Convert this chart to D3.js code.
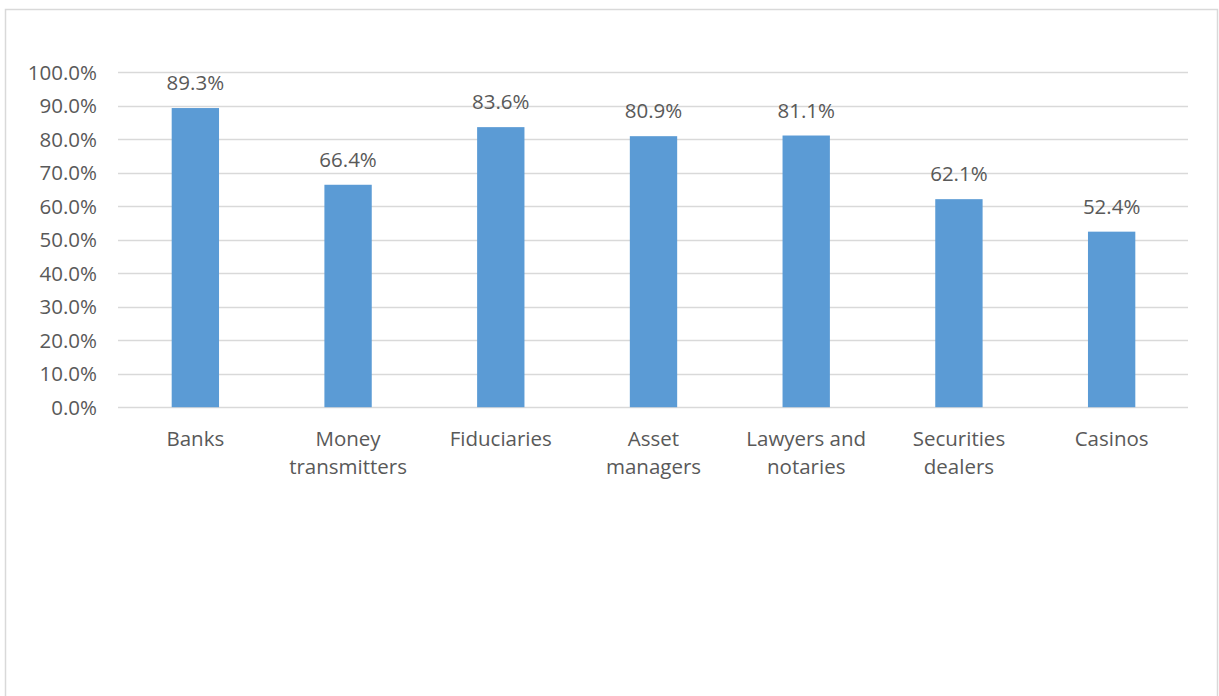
<!DOCTYPE html>
<html><head><meta charset="utf-8">
<script src="https://cdn.jsdelivr.net/npm/d3@7"></script>
<style>
html,body{margin:0;padding:0;background:#fff;}
svg{display:block;}
text{font-family:"Open Sans",sans-serif;fill:#595959;}
</style></head>
<body>
<script>
const categories = [["Banks"],["Money","transmitters"],["Fiduciaries"],["Asset","managers"],["Lawyers and","notaries"],["Securities","dealers"],["Casinos"]];
const values = [89.3, 66.4, 83.6, 80.9, 81.1, 62.1, 52.4];
const yTicks = [0,10,20,30,40,50,60,70,80,90,100];

const W = 1219, H = 696;
const svg = d3.select("body").append("svg").attr("width", W).attr("height", H);

svg.append("rect").attr("x",5.5).attr("y",9.5).attr("width",1212).attr("height",700)
  .attr("fill","#fff").attr("stroke","#d9d9d9").attr("stroke-width",1.5);

const x = d3.scaleBand().domain(d3.range(categories.length)).range([119,1188]).paddingInner(0.69).paddingOuter(0.345);
const y = d3.scaleLinear().domain([0,100]).range([407.2,72.2]);

// gridlines
svg.append("g").selectAll("line").data(yTicks).join("line")
  .attr("x1",118).attr("x2",1188)
  .attr("y1",d=>Math.round(y(d))+0.5).attr("y2",d=>Math.round(y(d))+0.5)
  .attr("stroke","#d9d9d9").attr("stroke-width",1.3);

// y tick labels
svg.append("g").selectAll("text").data(yTicks).join("text")
  .attr("x",97).attr("y",d=>y(d)+7.5).attr("text-anchor","end")
  .attr("font-size",20.5).text(d=>d.toFixed(1)+"%");

// bars
svg.append("g").selectAll("rect").data(values).join("rect")
  .attr("x",(d,i)=>x(i)).attr("width",x.bandwidth())
  .attr("y",d=>y(d)).attr("height",d=>y(0)-y(d))
  .attr("fill","#5b9bd5");

// value labels
svg.append("g").selectAll("text").data(values).join("text")
  .attr("x",(d,i)=>x(i)+x.bandwidth()/2).attr("y",d=>y(d)-17.8)
  .attr("text-anchor","middle").attr("font-size",20.5)
  .text(d=>d.toFixed(1)+"%");

// category labels
const cg = svg.append("g").selectAll("text").data(categories).join("text")
  .attr("text-anchor","middle").attr("font-size",20.5);
cg.each(function(lines,i){
  const t = d3.select(this);
  lines.forEach((ln,j)=>{
    t.append("tspan").attr("x",x(i)+x.bandwidth()/2).attr("y",446+j*27.5).text(ln);
  });
});
</script>
</body></html>
